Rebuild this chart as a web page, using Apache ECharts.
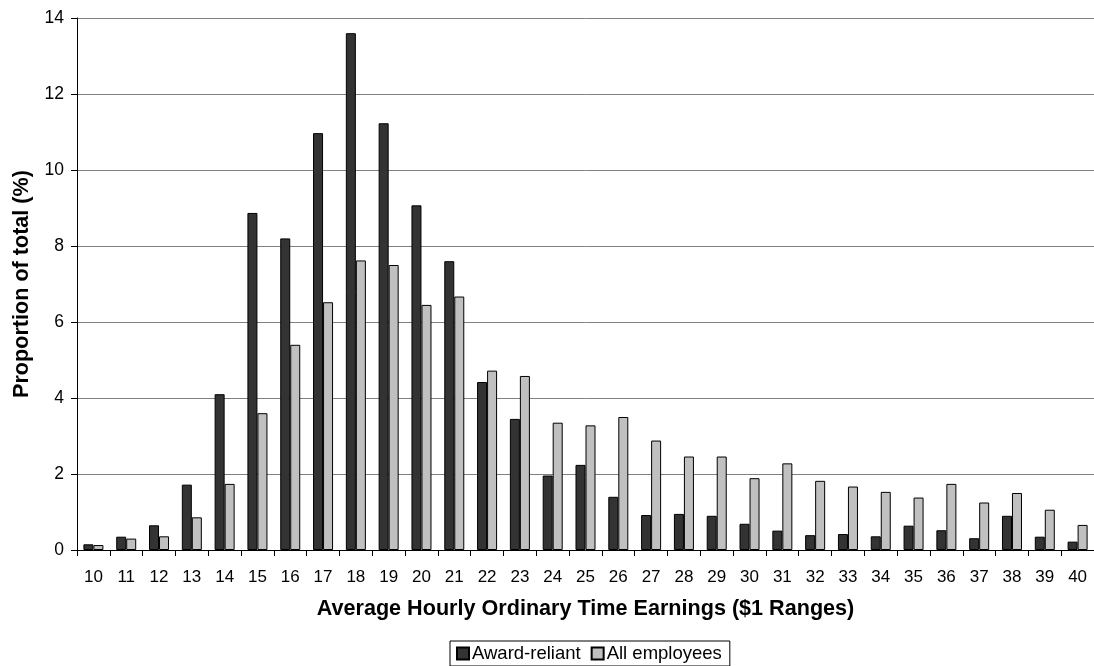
<!DOCTYPE html>
<html><head><meta charset="utf-8">
<script src="https://cdn.jsdelivr.net/npm/echarts@6/dist/echarts.min.js"></script>
<style>html,body{margin:0;padding:0;background:#fff}#c{width:1094px;height:666px}</style>
</head><body><div id="c"></div>
<script>
const categories = ['10','11','12','13','14','15','16','17','18','19','20','21','22','23','24','25','26','27','28','29','30','31','32','33','34','35','36','37','38','39','40'];
const awardReliant = [0.15,0.35,0.65,1.72,4.1,8.87,8.2,10.97,13.6,11.23,9.07,7.6,4.42,3.45,1.96,2.24,1.4,0.92,0.95,0.9,0.69,0.51,0.39,0.42,0.36,0.64,0.52,0.31,0.9,0.35,0.22];
const allEmployees = [0.13,0.3,0.36,0.86,1.74,3.6,5.4,6.52,7.62,7.5,6.45,6.67,4.72,4.58,3.35,3.28,3.5,2.88,2.46,2.46,1.89,2.28,1.82,1.67,1.53,1.38,1.74,1.25,1.5,1.06,0.66];
const yTicks = [0,2,4,6,8,10,12,14];

const font = 'Liberation Sans, Arial, sans-serif';
const chart = echarts.init(document.getElementById('c'));
chart.setOption({
  animation: false,
  textStyle: {fontFamily: font},
  grid: {left: 77, top: 18, right: -5, bottom: 116, containLabel: false},
  legend: {
    left: 450, top: 641,
    data: ['Award-reliant', 'All employees'],
    icon: 'rect', itemWidth: 12, itemHeight: 12, itemGap: 10,
    borderColor: '#000', borderWidth: 1, padding: [3, 8, 3, 6],
    textStyle: {fontFamily: font, fontSize: 18.5, color: '#000', padding: [0,0,0,-2]}
  },
  xAxis: {
    type: 'category', data: categories,
    name: 'Average Hourly Ordinary Time Earnings ($1 Ranges)',
    nameLocation: 'middle', nameGap: 48,
    nameTextStyle: {fontFamily: font, fontSize: 21.6, fontWeight: 'bold', color: '#000'},
    axisLine: {lineStyle: {color: '#000', width: 1}},
    axisTick: {show: true, length: 6, lineStyle: {color: '#000'}, alignWithLabel: false},
    axisLabel: {fontFamily: font, fontSize: 17, color: '#000', margin: 19}
  },
  yAxis: {
    type: 'value', min: 0, max: 14, interval: 2,
    name: 'Proportion of total (%)',
    nameLocation: 'middle', nameGap: 44,
    nameTextStyle: {fontFamily: font, fontSize: 21.6, fontWeight: 'bold', color: '#000'},
    axisLine: {show: true, lineStyle: {color: '#000', width: 1}},
    axisTick: {show: true, length: 6, lineStyle: {color: '#000'}},
    axisLabel: {fontFamily: font, fontSize: 17.5, color: '#000', margin: 13,
      formatter: v => yTicks.includes(v) ? String(v) : ''},
    splitLine: {show: true, lineStyle: {color: '#808080', width: 1}}
  },
  series: [
    {name: 'Award-reliant', type: 'bar', data: awardReliant, barGap: '0%', barCategoryGap: '39%',
     itemStyle: {color: '#333333', borderColor: '#000', borderWidth: 1}},
    {name: 'All employees', type: 'bar', data: allEmployees,
     itemStyle: {color: '#c0c0c0', borderColor: '#000', borderWidth: 1}}
  ]
});
</script></body></html>
